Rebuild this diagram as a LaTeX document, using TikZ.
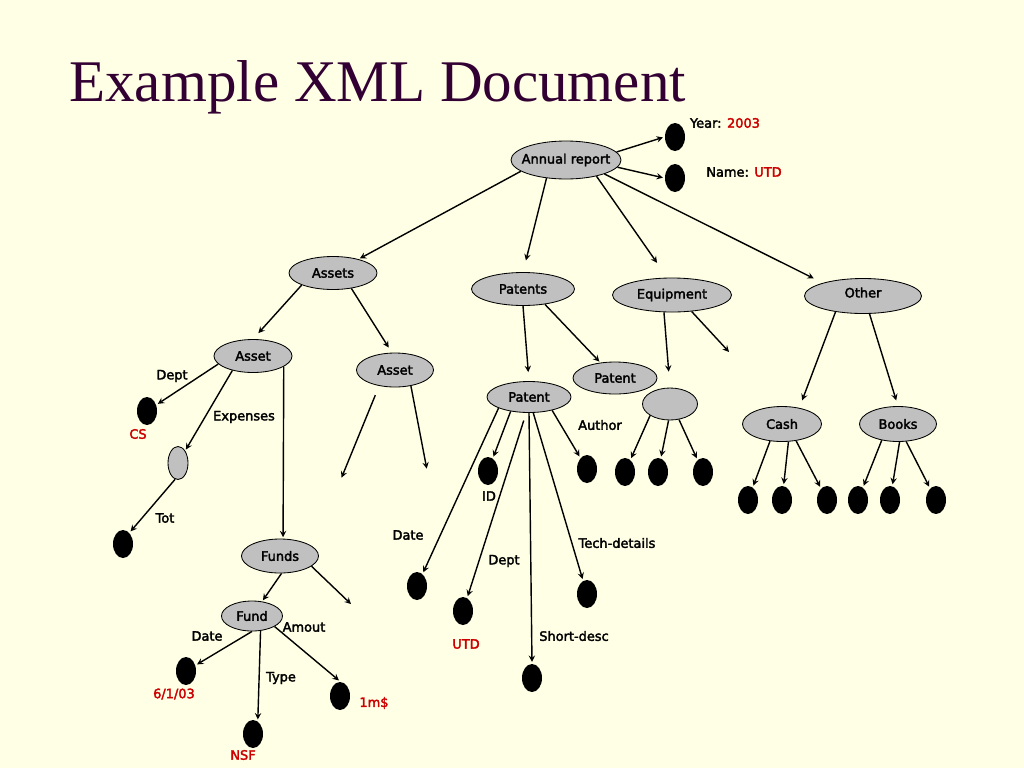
\documentclass[tikz,border=0pt]{standalone}
\usepackage{fontspec}
\usepackage{tikz}
\usetikzlibrary{arrows,shapes}
\newfontfamily\dvsans[UprightFeatures={FakeBold=2.5}]{DejaVu Sans}
\newfontfamily\titleserif{Liberation Serif}
\definecolor{slidebg}{RGB}{255,255,229}
\definecolor{elemgray}{RGB}{192,192,192}
\definecolor{valred}{RGB}{204,0,0}
\definecolor{titlepurple}{RGB}{51,0,51}

\begin{document}
\begin{tikzpicture}[x=0.25mm,y=-0.25mm,->,>=stealth,shorten >=1pt,line width=1pt,
        elem/.style={ellipse,draw=black,line width=0.6pt,fill=elemgray,inner xsep=-4mm,inner ysep=0pt},
        leaf/.style={ellipse,fill=black,minimum width=5mm,minimum height=7mm,inner sep=0pt},
        value/.style={text=valred},
        every node/.style={font=\dvsans\fontsize{9.2}{11}\selectfont}]
        \path[fill=slidebg,-] (0,0) rectangle (1024,768);
        \node[anchor=base west,text=titlepurple,font=\titleserif\fontsize{42}{50}\selectfont] (title) at (64,101) {Example XML Document};
        % root
        \node[elem,minimum width=27.5mm,minimum height=9.5mm] (annual) at (566,160) {Annual report};
        \node[leaf] (year) at (675,137) {};
        \node[leaf] (name) at (675,178) {};
        \node (lyear) at (725,123) {Year: \textcolor{valred}{2003}};
        \node (lname) at (744,172) {Name: \textcolor{valred}{UTD}};
        % second level
        \node[elem,minimum width=22mm,minimum height=8.25mm] (assets) at (333,273) {Assets};
        \node[elem,minimum width=25.75mm,minimum height=8.25mm] (patents) at (523,289) {Patents};
        \node[elem,minimum width=29.75mm,minimum height=8.5mm] (equip) at (672,295) {Equipment};
        \node[elem,minimum width=29.25mm,minimum height=8.75mm] (other) at (863,296) {\raisebox{1.75mm}{Other}};
        % third level
        \node[elem,minimum width=19.5mm,minimum height=8.25mm] (asset1) at (253,356) {Asset};
        \node[elem,minimum width=19.25mm,minimum height=8.5mm] (asset2) at (395,370) {Asset};
        \node[elem,minimum width=21mm,minimum height=8mm] (patent1) at (615,378) {Patent};
        \node[elem,minimum width=21mm,minimum height=7.75mm] (patent2) at (529,397) {Patent};
        \node[elem,minimum width=13.75mm,minimum height=8mm] (eqn) at (670,404) {};
        \node[elem,minimum width=19.75mm,minimum height=8.75mm] (cash) at (782,424) {Cash};
        \node[elem,minimum width=19.25mm,minimum height=8.75mm] (books) at (898,424) {Books};
        \node[elem,minimum width=5mm,minimum height=8.25mm] (exp) at (178,463) {};
        \node[elem,minimum width=19.25mm,minimum height=8.5mm] (funds) at (280,556) {Funds};
        \node[elem,minimum width=15.25mm,minimum height=7.5mm] (fund) at (252,616) {Fund};
        % leaves
        \node[leaf] (cs) at (147,411) {};
        \node[leaf] (tot) at (123,544) {};
        \node[leaf] (fdate) at (186,671) {};
        \node[leaf] (ftype) at (253,734) {};
        \node[leaf] (famt) at (340,696) {};
        \node[leaf] (pdate) at (417,586) {};
        \node[leaf] (pid) at (488,471) {};
        \node[leaf] (pdept) at (463,611) {};
        \node[leaf] (pshort) at (532,678) {};
        \node[leaf] (ptech) at (587,594) {};
        \node[leaf] (pauth) at (587,469) {};
        \node[leaf] (e1) at (625,472) {};
        \node[leaf] (e2) at (658,472) {};
        \node[leaf] (e3) at (703,472) {};
        \node[leaf] (c1) at (748,500) {};
        \node[leaf] (c2) at (782,500) {};
        \node[leaf] (c3) at (827,500) {};
        \node[leaf] (b1) at (858,500) {};
        \node[leaf] (b2) at (890,500) {};
        \node[leaf] (b3) at (936,500) {};
        % open ends
        \coordinate (asset2-l) at (341,479);
        \coordinate (asset2-r) at (427,470);
        \coordinate (funds-r) at (352,605);
        \coordinate (equip-r) at (730,353);
        % labels
        \node (ldept) at (172,376) {Dept};
        \node[value] (lcs) at (138,434) {CS};
        \node (lexp) at (244,417) {Expenses};
        \node (ltot) at (165,518) {Tot};
        \node (lfdate) at (207,636) {Date};
        \node[value] (lfdatev) at (174,694) {6/1/03};
        \node (ltype) at (281,678) {Type};
        \node[value] (lnsf) at (243,755) {NSF};
        \node (lamt) at (304,627) {Amout};
        \node[value] (lamtv) at (374,703) {1m\$};
        \node (lpdate) at (408,535) {Date};
        \node (lid) at (489,496) {ID};
        \node (lpdept) at (504,561) {Dept};
        \node[value] (lutd) at (466,644) {UTD};
        \node (lshort) at (574,636) {Short-desc};
        \node (ltech) at (617,543) {Tech-details};
        \node (lauth) at (600,425) {Author};
        \path
          (annual.9) edge (year.west)
          (annual.-8) edge (name.west)
          (annual.-166) edge (assets)
          (annual.-137) edge[shorten >=3mm] (patents.north)
          (annual.-28) edge[shorten >=4.5mm] (equip.105)
          (annual.-20) edge[shorten >=2.5mm] (other.162)
          (assets.-159) edge[shorten >=2mm] (asset1.north)
          (assets.-40) edge[shorten >=1.5mm] (asset2.100)
          (asset2.-135) edge[shorten <=2.5mm] (asset2-l)
          (asset2.-45) edge (asset2-r)
          (asset1.-167) edge (cs)
          (asset1.-145) edge (exp)
          (exp.-100) edge (tot.60)
          (asset1.-19) edge (funds.80)
          (funds.-85) edge (fund)
          (funds.-18) edge (funds-r)
          (fund.-90) edge (fdate)
          (fund.-60) edge (ftype.70)
          (fund.-25) edge (famt.north)
          (patents.south) edge[shorten >=2.25mm] (patent2.north)
          (patents.-35) edge (patent1)
          (patent2.-160) edge (pdate)
          (patent2.-142) edge (pid)
          (patent2.-100) edge[shorten <=2mm] (pdept)
          (patent2.south) edge (pshort.north)
          (patent2.-75) edge (ptech)
          (patent2.-30) edge (pauth)
          (equip.-115) edge[shorten >=4mm] (eqn.north)
          (equip.-40) edge (equip-r)
          (eqn.-150) edge (e1)
          (eqn.-95) edge (e2)
          (eqn.-60) edge (e3)
          (other.-150) edge[shorten >=2mm] (cash.43)
          (other.-70) edge[shorten >=1.5mm] (books.north)
          (cash.-125) edge (c1)
          (cash.-70) edge (c2)
          (cash.-50) edge (c3)
          (books.-135) edge (b1)
          (books.-85) edge (b2)
          (books.-65) edge (b3);
      \end{tikzpicture}
\end{document}
